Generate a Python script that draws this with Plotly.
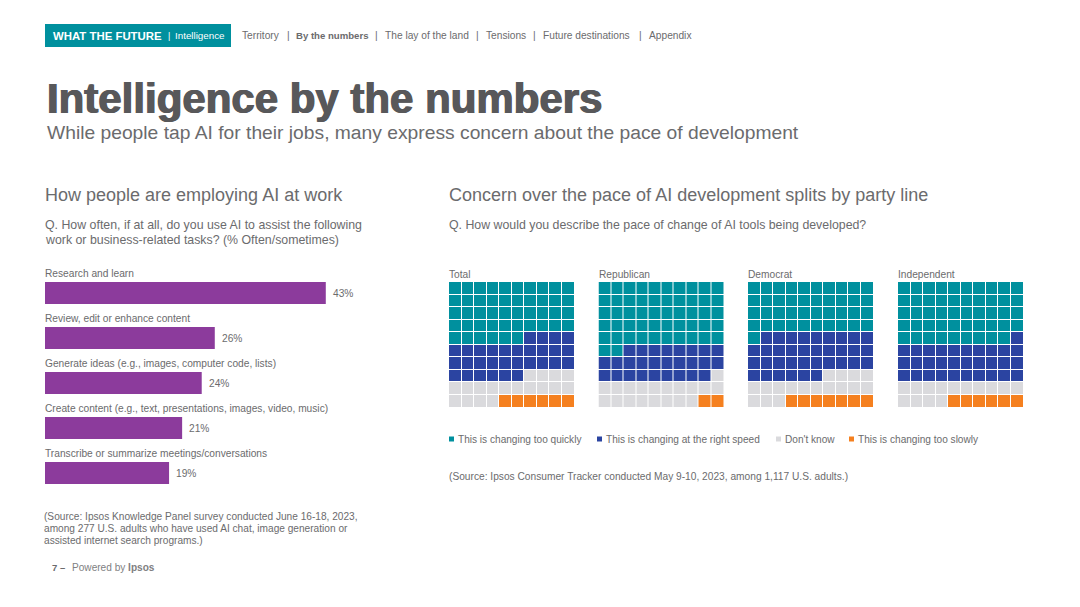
import plotly.graph_objects as go

W, H = 1080, 607
FONT = "Liberation Sans"
GREY = "#6b6b6d"

# Bar chart data
task_labels = ["Research and learn", "Review, edit or enhance content",
               "Generate ideas (e.g., images, computer code, lists)",
               "Create content (e.g., text, presentations, images, video, music)",
               "Transcribe or summarize meetings/conversations"]
task_values = [43, 26, 24, 21, 19]

# Waffle data
groups = ["Total", "Republican", "Democrat", "Independent"]
too_quickly = [46, 52, 41, 49]
right_speed = [30, 27, 35, 31]
dont_know = [18, 19, 17, 14]
too_slowly = [6, 2, 7, 6]
response_names = ["This is changing too quickly", "This is changing at the right speed",
                  "Don't know", "This is changing too slowly"]
response_colors = ["#00909e", "#2b44a1", "#dadadd", "#f5801f"]

PURPLE = "#8c3b9c"
TEAL = "#00909e"

fig = go.Figure()

def px_x(x):
    return x / W

def px_y(y):
    return 1 - y / H

annotations = []
def text(x, y, s, size=10.2, color=GREY, shadow=None):
    font = dict(family=FONT, size=size, color=color)
    if shadow:
        font["shadow"] = shadow
    annotations.append(dict(x=px_x(x), y=px_y(y), xref="paper", yref="paper", text=s,
                            showarrow=False, xanchor="left", yanchor="middle", font=font,
                            align="left", borderpad=0, borderwidth=0))

shapes = [dict(type="rect", xref="paper", yref="paper", x0=px_x(45), x1=px_x(231),
               y0=px_y(47), y1=px_y(24), fillcolor=TEAL, line=dict(width=0), layer="below")]

# Header
text(53, 36, "<b>WHAT THE FUTURE</b>", 11.4, "#ffffff")
text(168, 36, "|", 9, "#ffffff")
text(175, 36, "Intelligence", 9.8, "#ffffff")
nav = [(242, "Territory"), (287, "|"), (296, "<b>By the numbers</b>"), (375, "|"),
       (385, "The lay of the land"), (476, "|"), (486, "Tensions"), (533, "|"),
       (543, "Future destinations"), (639, "|"), (649, "Appendix")]
for x, s in nav:
    text(x, 36, s, 9.6 if s.startswith("<b>") else 10.2, GREY)

# Titles
text(47, 98, "<b>Intelligence by the numbers</b>", 42, "#58585a",
     shadow="0.7px 0 0 #58585a, -0.7px 0 0 #58585a")
text(47, 132, "While people tap AI for their jobs, many express concern about the pace of development", 19.25, GREY)
text(45, 195, "How people are employing AI at work", 18, GREY)
text(449, 195, "Concern over the pace of AI development splits by party line", 18, GREY)
text(45, 225, "Q. How often, if at all, do you use AI to assist the following", 12.35, GREY)
text(45, 240, "work or business-related tasks? (% Often/sometimes)", 12.35, GREY)
text(449, 225, "Q. How would you describe the pace of change of AI tools being developed?", 12.35, GREY)

# Bars
fig.add_trace(go.Bar(x=task_values, y=list(range(5)), orientation="h", marker=dict(color=PURPLE, line=dict(width=0)),
                     xaxis="x", yaxis="y", showlegend=False, hoverinfo="skip"))
for i, (lab, val) in enumerate(zip(task_labels, task_values)):
    annotations.append(dict(x=0, y=i, xref="x", yref="y", text=lab, showarrow=False, xanchor="left",
                            yanchor="middle", yshift=20, xshift=-1, borderpad=0,
                            font=dict(family=FONT, size=10.2, color=GREY)))
    annotations.append(dict(x=val, y=i, xref="x", yref="y", text=f"{val}%", showarrow=False, xanchor="left",
                            yanchor="middle", xshift=6, borderpad=0,
                            font=dict(family=FONT, size=10.2, color=GREY)))

layout_axes = dict(
    xaxis=dict(domain=[px_x(45), px_x(345)], range=[0, 300 / 6.53], visible=False, fixedrange=True),
    yaxis=dict(domain=[px_y(495.5), px_y(270.5)], range=[4.5, -0.5], visible=False, fixedrange=True),
)

# Waffles
scale = [[0, response_colors[0]], [0.25, response_colors[0]],
         [0.25, response_colors[1]], [0.5, response_colors[1]],
         [0.5, response_colors[2]], [0.75, response_colors[2]],
         [0.75, response_colors[3]], [1, response_colors[3]]]
lefts = [449, 598.5, 748, 898]
for k, g in enumerate(groups):
    flat = []
    for idx, n in enumerate([too_quickly[k], right_speed[k], dont_know[k], too_slowly[k]]):
        flat += [idx] * n
    z = [flat[r * 10:(r + 1) * 10] for r in range(10)]
    ax = k + 2
    fig.add_trace(go.Heatmap(z=z, xaxis=f"x{ax}", yaxis=f"y{ax}", colorscale=scale, zmin=-0.5, zmax=3.5,
                             showscale=False, xgap=1, ygap=1, hoverinfo="skip"))
    layout_axes[f"xaxis{ax}"] = dict(domain=[px_x(lefts[k]), px_x(lefts[k] + 125.5)], range=[-0.5, 9.5],
                                     visible=False, fixedrange=True)
    layout_axes[f"yaxis{ax}"] = dict(domain=[px_y(407.5), px_y(282)], range=[9.5, -0.5],
                                     visible=False, fixedrange=True)
    text(lefts[k], 274, g, 10.2, GREY)

# Legend
legend_x = [449, 597, 776, 849]
for x, name, c in zip(legend_x, response_names, response_colors):
    shapes.append(dict(type="rect", xref="paper", yref="paper", x0=px_x(x), x1=px_x(x + 5),
                       y0=px_y(441.5), y1=px_y(436.5), fillcolor=c, line=dict(width=0)))
    text(x + 9, 439, name, 10.1, GREY)

# Sources and footer
text(449, 476, "(Source: Ipsos Consumer Tracker conducted May 9-10, 2023, among 1,117 U.S. adults.)", 10.2, GREY)
text(44, 516, "(Source: Ipsos Knowledge Panel survey conducted June 16-18, 2023,", 10.15, GREY)
text(44, 528.5, "among 277 U.S. adults who have used AI chat, image generation or", 10.15, GREY)
text(44, 540, "assisted internet search programs.)", 10.15, GREY)
text(52, 567, "<b>7 –</b>", 9.5, GREY)
text(72, 567, "Powered by <b>Ipsos</b>", 10.1, "#808082")

fig.update_layout(width=W, height=H, margin=dict(l=0, r=0, t=0, b=0), paper_bgcolor="#ffffff",
                  plot_bgcolor="#ffffff", bargap=0.51, showlegend=False, annotations=annotations,
                  shapes=shapes, **layout_axes)
fig.write_html("out.html", config=dict(displayModeBar=False),
               post_script="document.body.style.margin='0';")
